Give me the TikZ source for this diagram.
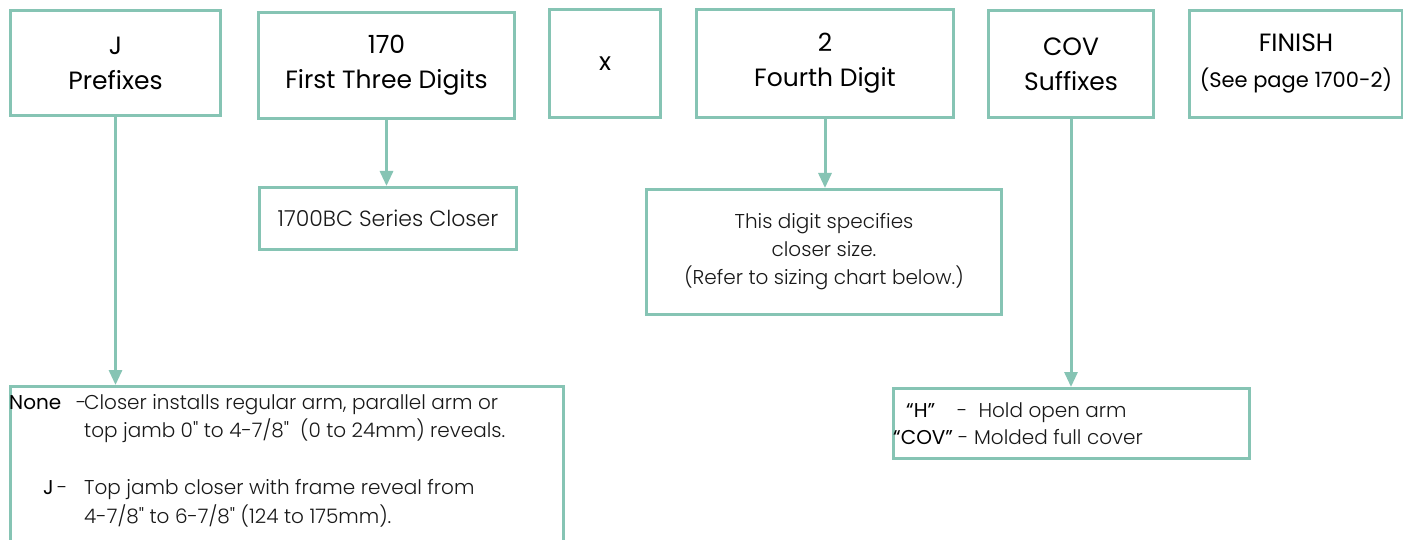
\documentclass[tikz,border=0pt]{standalone}
\usepackage{fontspec}
\setmainfont{Poppins}
\newfontfamily\lightf{Poppins Light}
\usetikzlibrary{arrows.meta}
\definecolor{boxcol}{RGB}{134,196,180}
\definecolor{txt}{RGB}{25,25,25}
\begin{document}
\begin{tikzpicture}[x=1pt,y=-1pt,
  box/.style={draw=boxcol, line width=3pt, inner sep=0pt, anchor=north west, align=center, text=black},
  conn/.style={draw=boxcol, line width=3pt, -{Triangle[length=15pt,width=13pt]}},
  head/.style={font=\fontsize{25}{35}\selectfont},
  body/.style={font=\lightf\fontsize{20}{28}\selectfont, text=txt},
  lab/.style={font=\fontsize{20}{28}\selectfont, text=black},
  item/.style={inner sep=0pt, anchor=base west}]
\useasboundingbox (0,0) rectangle (1403,540);
\fill[white] (0,0) rectangle (1403,540);
% top row
\node[box, head, minimum width=210pt, minimum height=105pt] (jbox) at (9,9) {J\\Prefixes};
\node[box, head, minimum width=256pt, minimum height=106pt] (dbox) at (257,11) {170\\First Three Digits};
\node[box, head, minimum width=111pt, minimum height=108pt] (xbox) at (548,8) {x};
\node[box, head, minimum width=257pt, minimum height=108pt] (fbox) at (695,8) {2\\Fourth Digit};
\node[box, head, minimum width=165pt, minimum height=107pt] (cbox) at (987,9) {COV\\Suffixes};
\node[box, head, minimum width=213pt, minimum height=107pt] (nbox) at (1188,9) {FINISH\\[1pt]{\fontsize{21}{30}\selectfont (See page 1700-2)}};
% second row
\node[box, body, font=\lightf\fontsize{22}{28}\selectfont, minimum width=257pt, minimum height=62pt] (sbox) at (258,186) {1700BC Series Closer};
\node[box, body, minimum width=355pt, minimum height=125pt] (zbox) at (645,188) {This digit specifies\\closer size.\\(Refer to sizing chart below.)};
% lower boxes
\node[box, minimum width=553pt, minimum height=200pt] (pbox) at (9,385) {};
\node[box, minimum width=356pt, minimum height=70pt] (ubox) at (892,387) {};
% connectors
\draw[conn] (jbox.south) -- (jbox.south |- pbox.north);
\draw[conn] (dbox.south) -- (dbox.south |- sbox.north);
\draw[conn] (fbox.south) -- (fbox.south |- zbox.north);
\draw[conn] (cbox.south) -- (cbox.south |- ubox.north);
% prefix list
\node[lab, item] (n1) at (9,409) {None};
\node[body, item] (n1d) at (76,409) {-};
\node[body, item] (n1a) at (84,409) {Closer installs regular arm, parallel arm or};
\node[body, item] (n1b) at (84,437) {top jamb 0" to 4-7/8"\ \ (0 to 24mm) reveals.};
\node[lab, item] (n2) at (43,494) {J};
\node[body, item] (n2d) at (57,494) {-};
\node[body, item] (n2a) at (84,494) {Top jamb closer with frame reveal from};
\node[body, item] (n2b) at (84,523) {4-7/8" to 6-7/8" (124 to 175mm).};
% suffix list
\node[lab, item] (s1) at (906,417) {“H”};
\node[body, item] (s1d) at (957,417) {-\ \ Hold open arm};
\node[lab, item] (s2) at (893,444) {“COV”};
\node[body, item] (s2d) at (958,444) {- Molded full cover};
\end{tikzpicture}
\end{document}
